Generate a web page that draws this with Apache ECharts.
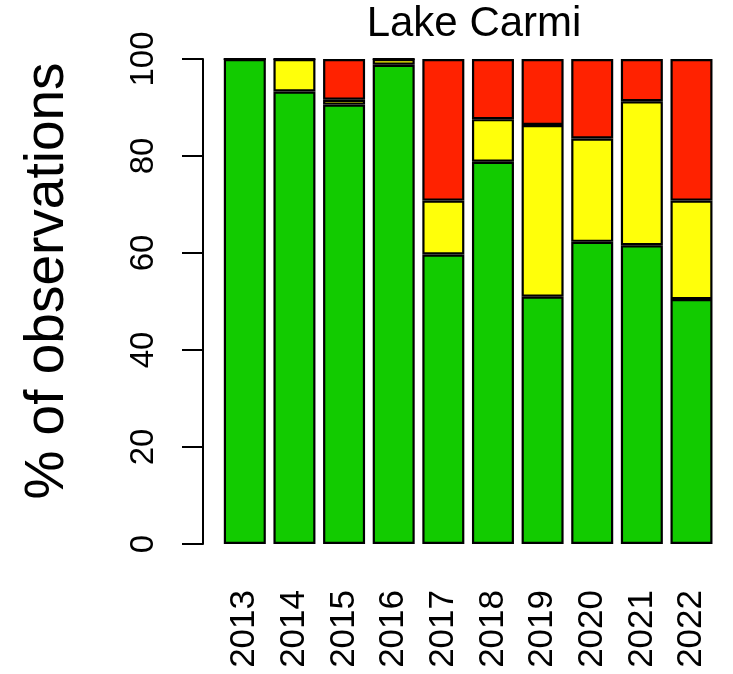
<!DOCTYPE html>
<html>
<head>
<meta charset="utf-8">
<script src="https://cdn.jsdelivr.net/npm/echarts@6/dist/echarts.min.js"></script>
<style>html,body{margin:0;padding:0;background:#fff;}#c{width:733px;height:674px;}</style>
</head>
<body>
<div id="c"></div>
<script>
var years = ['2013','2014','2015','2016','2017','2018','2019','2020','2021','2022'];
var greenPct  = [100, 93.3, 90.6, 98.8, 59.7, 78.8, 51.0, 62.3, 61.6, 50.5];
var yellowPct = [0,   6.7,  1.0,  1.2,  11.1, 8.8,  35.4, 21.3, 29.7, 20.3];
var redPct    = [0,   0,    8.4,  0,    29.2, 12.4, 13.6, 16.4, 8.7,  29.2];
var yTicks = [0, 20, 40, 60, 80, 100];
var titleText = 'Lake Carmi';
var yLabel = '% of observations';

var FONT = '"Liberation Sans", Arial, Helvetica, sans-serif';
var chart = echarts.init(document.getElementById('c'));
function barSeries(name, data, color) {
  return {
    name: name, type: 'bar', stack: 'all', data: data, barWidth: 42,
    itemStyle: { color: color, borderColor: '#000', borderWidth: 2.2 },
    animation: false
  };
}
chart.setOption({
  animation: false,
  grid: { left: 220, right: 16.7, top: 59, bottom: 130 },
  xAxis: {
    type: 'category', data: years,
    axisLine: { show: false }, axisTick: { show: false },
    axisLabel: { rotate: 90, margin: 46, fontSize: 35, color: '#000', fontFamily: FONT }
  },
  yAxis: {
    type: 'value', min: yTicks[0], max: yTicks[yTicks.length - 1], interval: 20,
    offset: 17,
    splitLine: { show: false },
    axisLine: { show: true, lineStyle: { color: '#000', width: 2 } },
    axisTick: { show: true, length: 21, lineStyle: { color: '#000', width: 2 } },
    axisLabel: { rotate: 90, margin: 43, fontSize: 33, color: '#000', fontFamily: FONT }
  },
  graphic: [
    { type: 'text', x: 474, y: 24, style: { text: titleText, fontSize: 42, fontFamily: FONT, fill: '#000', textAlign: 'center', textVerticalAlign: 'middle' } },
    { type: 'text', x: 48, y: 281, rotation: Math.PI / 2, style: { text: yLabel, fontSize: 55, fontFamily: FONT, fill: '#000', textAlign: 'center', textVerticalAlign: 'middle' } }
  ],
  series: [
    barSeries('green', greenPct, '#12CB00'),
    barSeries('yellow', yellowPct, '#FFFF0A'),
    barSeries('red', redPct, '#FF2200')
  ]
});
</script>
</body>
</html>
